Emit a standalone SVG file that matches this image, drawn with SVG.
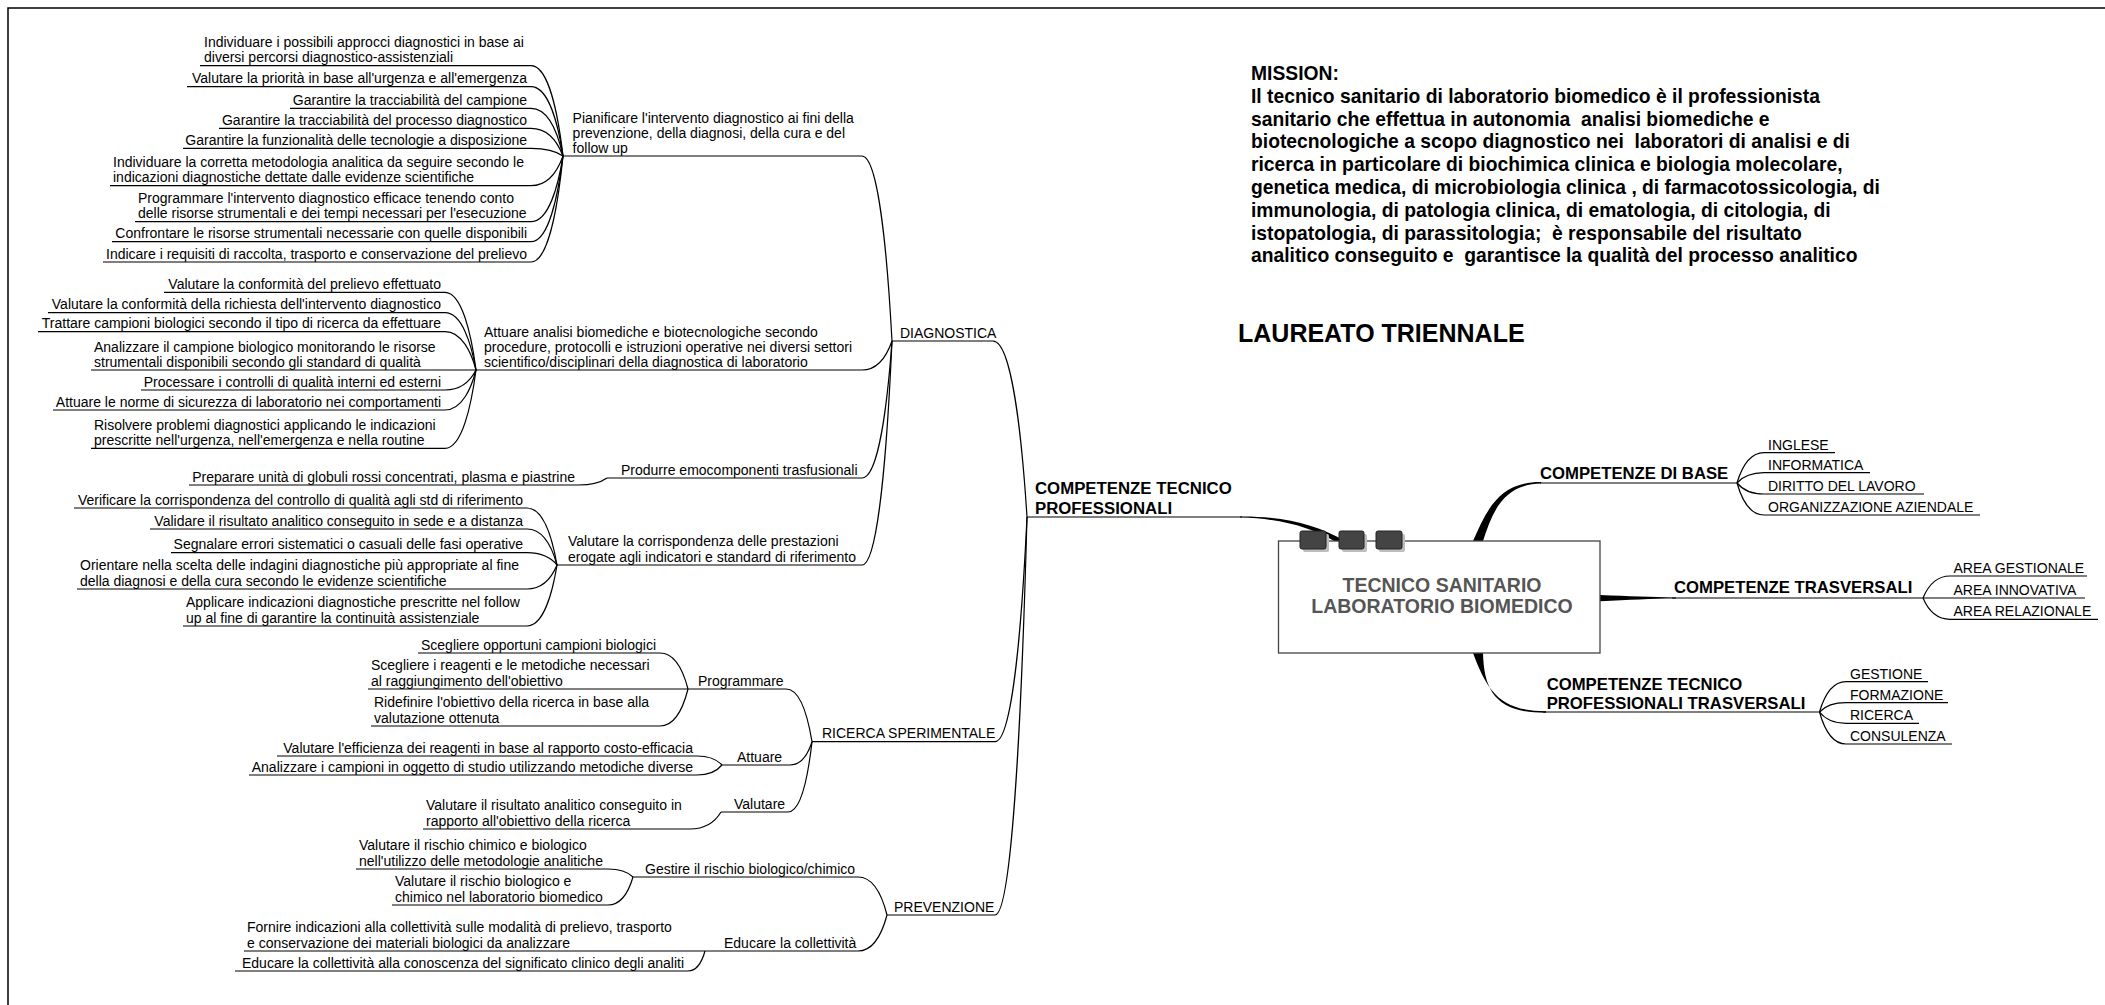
<svg xmlns="http://www.w3.org/2000/svg" width="2105" height="1005" viewBox="0 0 2105 1005">
<style>
.t{font-family:"Liberation Sans",Arial,sans-serif;font-size:14px;fill:#000}
.e{text-anchor:end}
.b{font-family:"Liberation Sans",Arial,sans-serif;font-weight:bold;fill:#000}
.br{font-size:16.7px}
.c{stroke:#000;stroke-width:1.2;fill:none}
.tp{fill:#000;stroke:none}
.sq{fill:#444;stroke:#222;stroke-width:1}
.sh{fill:#bdbdbd}
</style>
<rect width="2105" height="1005" fill="#fff"/>
<path d="M8 1005 V8 H2105" fill="none" stroke="#000" stroke-width="1.5"/>

<g id="connectors">
<path class="c" d="M200 65.7H531C548.6 65.7 558.2 115.4 563 156"/>
<path class="c" d="M187 86.7H531C548.6 86.7 558.2 124.8 563 156"/>
<path class="c" d="M290 108.3H531C548.6 108.3 558.2 134.5 563 156"/>
<path class="c" d="M219 128.3H531C548.6 128.3 558.2 143.5 563 156"/>
<path class="c" d="M183 148.3H531C548.6 148.3 558.2 152.5 563 156"/>
<path class="c" d="M110 185.7H531C548.6 185.7 558.2 169.4 563 156"/>
<path class="c" d="M135 221.7H531C548.6 221.7 558.2 185.6 563 156"/>
<path class="c" d="M112 241.7H531C548.6 241.7 558.2 194.6 563 156"/>
<path class="c" d="M103 262H531C548.6 262 558.2 203.7 563 156"/>
<path class="c" d="M563 156H862C878.5 156 887.5 257.8 892 341"/>
<path class="c" d="M164 292.3H445C462 292.3 471.4 335 476 370"/>
<path class="c" d="M48 312.7H445C462 312.7 471.4 344.2 476 370"/>
<path class="c" d="M38 331.7H445C462 331.7 471.4 352.8 476 370"/>
<path class="c" d="M91 370H476"/>
<path class="c" d="M141 390H445C462 390 471.4 379 476 370"/>
<path class="c" d="M53 410H445C462 410 471.4 388 476 370"/>
<path class="c" d="M91 448.3H445C462 448.3 471.4 405.2 476 370"/>
<path class="c" d="M476 370H862C878.5 370 887.5 354 892 341"/>
<path class="c" d="M189 485H578C594 485 602.6 481.2 607 478"/>
<path class="c" d="M607 478H862C878.5 478 887.5 402.7 892 341"/>
<path class="c" d="M74 508H527C543.5 508 552.5 539.4 557 565"/>
<path class="c" d="M150 529H527C543.5 529 552.5 548.8 557 565"/>
<path class="c" d="M171 552.7H527C543.5 552.7 552.5 559.5 557 565"/>
<path class="c" d="M77 589H527C543.5 589 552.5 575.8 557 565"/>
<path class="c" d="M183 626H527C543.5 626 552.5 592.5 557 565"/>
<path class="c" d="M557 565H862C878.5 565 887.5 441.8 892 341"/>
<path class="c" d="M892 341H993C1011.7 341 1021.9 437.8 1027 517"/>
<path class="c" d="M812 741.7H995C1012.6 741.7 1022.2 618.1 1027 517"/>
<path class="c" d="M887 915H995C1012.6 915 1022.2 696.1 1027 517"/>
<path class="c" d="M418 653H660C675.4 653 683.8 672.8 688 689"/>
<path class="c" d="M368 689H688"/>
<path class="c" d="M371 726H660C675.4 726 683.8 705.7 688 689"/>
<path class="c" d="M688 689H786C800.3 689 808.1 718 812 741.7"/>
<path class="c" d="M277 756H697C710.8 756 718.3 761 722 765"/>
<path class="c" d="M249 775H697C710.8 775 718.3 769.5 722 765"/>
<path class="c" d="M722 765H790C802.1 765 808.7 752.2 812 741.7"/>
<path class="c" d="M423 829H690C707 829 716.4 819.7 721 812"/>
<path class="c" d="M721 812H788C801.2 812 808.4 773.3 812 741.7"/>
<path class="c" d="M356 869H608C621.8 869 629.3 873.4 633 877"/>
<path class="c" d="M392 905H608C621.8 905 629.3 889.6 633 877"/>
<path class="c" d="M633 877H858C874 877 882.7 897.9 887 915"/>
<path class="c" d="M244 951H705"/>
<path class="c" d="M235 971H688C697.4 971 702.5 960 705 951"/>
<path class="c" d="M705 951H858C874 951 882.7 931.2 887 915"/>
<path class="c" d="M1027 517H1242"/>
<path class="tp" d="M1240 516.4C1282 516 1316 524 1345 541L1335 541.5C1310 527 1280 518.4 1240 517.6Z"/>
<path class="tp" d="M1473 541C1486 512 1498 481.6 1541 481.9L1541 483.6C1502 484 1492 514 1483 541Z"/>
<path class="c" d="M1540 483H1737"/>
<path class="c" d="M1835 452.7H1764C1749.2 452.7 1741.1 469.4 1737 483"/>
<path class="c" d="M1870 472.7H1764C1749.2 472.7 1741.1 478.4 1737 483"/>
<path class="c" d="M1924 494H1764C1749.2 494 1741.1 488 1737 483"/>
<path class="c" d="M1980 515H1764C1749.2 515 1741.1 497.4 1737 483"/>
<path class="tp" d="M1600 595C1630 596 1650 597.3 1676 597.4L1676 598.6C1650 598.7 1630 600 1600 601.2Z"/>
<path class="c" d="M1672 598H1923"/>
<path class="c" d="M2087 576H1950C1935.2 576 1927.1 588.1 1923 598"/>
<path class="c" d="M2085 598H1923"/>
<path class="c" d="M2098 619.3H1950C1935.2 619.3 1927.1 607.6 1923 598"/>
<path class="tp" d="M1473 653C1487 690 1499 711.2 1546 711.2L1546 712.8C1497 713 1484 692 1483 653Z"/>
<path class="c" d="M1543 712H1819.5"/>
<path class="c" d="M1928 681.7H1846C1831.4 681.7 1823.5 698.4 1819.5 712"/>
<path class="c" d="M1948 702.7H1846C1831.4 702.7 1823.5 707.8 1819.5 712"/>
<path class="c" d="M1919 723.3H1846C1831.4 723.3 1823.5 717 1819.5 712"/>
<path class="c" d="M1952 744H1846C1831.4 744 1823.5 726.4 1819.5 712"/>
</g>

<g id="mission">
<text class="b" font-size="19.3" x="1251" y="80">MISSION:</text>
<text class="b" font-size="19.3" x="1251" xml:space="preserve"><tspan x="1251" y="102.8">Il tecnico sanitario di laboratorio biomedico è il professionista</tspan><tspan x="1251" y="125.6">sanitario che effettua in autonomia  analisi biomediche e</tspan><tspan x="1251" y="148.4">biotecnologiche a scopo diagnostico nei  laboratori di analisi e di</tspan><tspan x="1251" y="171.2">ricerca in particolare di biochimica clinica e biologia molecolare,</tspan><tspan x="1251" y="194">genetica medica, di microbiologia clinica , di farmacotossicologia, di</tspan><tspan x="1251" y="216.8">immunologia, di patologia clinica, di ematologia, di citologia, di</tspan><tspan x="1251" y="239.6">istopatologia, di parassitologia;  è responsabile del risultato</tspan><tspan x="1251" y="262.4">analitico conseguito e  garantisce la qualità del processo analitico</tspan></text>
</g>
<g id="laureato"><text class="b" font-size="25" x="1238" y="342">LAUREATO TRIENNALE</text></g>

<g id="central">
<rect x="1278.5" y="541" width="321.5" height="112" fill="#fff" stroke="#444" stroke-width="1.3"/>
<rect class="sh" x="1303" y="534" width="26" height="18" rx="2"/>
<rect class="sh" x="1342" y="534" width="25" height="18" rx="2"/>
<rect class="sh" x="1379" y="534" width="26" height="18" rx="2"/>
<rect class="sq" x="1300" y="531" width="26" height="18" rx="2"/>
<rect class="sq" x="1339" y="531" width="25" height="18" rx="2"/>
<rect class="sq" x="1376" y="531" width="26" height="18" rx="2"/>
<text class="b" font-size="19.5" text-anchor="middle" style="fill:#555"><tspan x="1442" y="591.5">TECNICO SANITARIO</tspan><tspan x="1442" y="612.5">LABORATORIO BIOMEDICO</tspan></text>
</g>

<g id="competenze-tecnico-professionali"><text class="b" font-size="16.8"><tspan x="1035" y="494">COMPETENZE TECNICO</tspan><tspan x="1035" y="513.5">PROFESSIONALI</tspan></text></g>
<g id="diagnostica"><text class="t" x="900" y="337.5">DIAGNOSTICA</text></g>
<g id="ricerca-sperimentale"><text class="t" x="822" y="738.2">RICERCA SPERIMENTALE</text></g>
<g id="prevenzione"><text class="t" x="894" y="911.5">PREVENZIONE</text></g>

<g id="pianificare"><text class="t"><tspan x="572.6" y="122.5">Pianificare l'intervento diagnostico ai fini della</tspan><tspan x="572.6" y="137.5">prevenzione, della diagnosi, della cura e del</tspan><tspan x="572.6" y="152.5">follow up</tspan></text></g>
<g id="p1"><text class="t"><tspan x="204" y="47.2">Individuare i possibili approcci diagnostici in base ai</tspan><tspan x="204" y="62.2">diversi percorsi diagnostico-assistenziali</tspan></text></g>
<g id="p2"><text class="t e" x="527" y="83.2">Valutare la priorità in base all'urgenza e all'emergenza</text></g>
<g id="p3"><text class="t e" x="527" y="104.8">Garantire la tracciabilità del campione</text></g>
<g id="p4"><text class="t e" x="527" y="124.8">Garantire la tracciabilità del processo diagnostico</text></g>
<g id="p5"><text class="t e" x="527" y="144.8">Garantire la funzionalità delle tecnologie a disposizione</text></g>
<g id="p6"><text class="t"><tspan x="113" y="167.2">Individuare la corretta metodologia analitica da seguire secondo le</tspan><tspan x="113" y="182.2">indicazioni diagnostiche dettate dalle evidenze scientifiche</tspan></text></g>
<g id="p7"><text class="t"><tspan x="138" y="203.2">Programmare l'intervento diagnostico efficace tenendo conto</tspan><tspan x="138" y="218.2">delle risorse strumentali e dei tempi necessari per l'esecuzione</tspan></text></g>
<g id="p8"><text class="t e" x="527" y="238.2">Confrontare le risorse strumentali necessarie con quelle disponibili</text></g>
<g id="p9"><text class="t e" x="527" y="258.5">Indicare i requisiti di raccolta, trasporto e conservazione del prelievo</text></g>

<g id="attuare-analisi"><text class="t"><tspan x="484" y="336.5">Attuare analisi biomediche e biotecnologiche secondo</tspan><tspan x="484" y="351.5">procedure, protocolli e istruzioni operative nei diversi settori</tspan><tspan x="484" y="366.5">scientifico/disciplinari della diagnostica di laboratorio</tspan></text></g>
<g id="a1"><text class="t e" x="441" y="288.8">Valutare la conformità del prelievo effettuato</text></g>
<g id="a2"><text class="t e" x="441" y="309.2">Valutare la conformità della richiesta dell'intervento diagnostico</text></g>
<g id="a3"><text class="t e" x="441" y="328.2">Trattare campioni biologici secondo il tipo di ricerca da effettuare</text></g>
<g id="a4"><text class="t"><tspan x="94" y="351.5">Analizzare il campione biologico monitorando le risorse</tspan><tspan x="94" y="366.5">strumentali disponibili secondo gli standard di qualità</tspan></text></g>
<g id="a5"><text class="t e" x="441" y="386.5">Processare i controlli di qualità interni ed esterni</text></g>
<g id="a6"><text class="t e" x="441" y="406.5">Attuare le norme di sicurezza di laboratorio nei comportamenti</text></g>
<g id="a7"><text class="t"><tspan x="94" y="429.8">Risolvere problemi diagnostici applicando le indicazioni</tspan><tspan x="94" y="444.8">prescritte nell'urgenza, nell'emergenza e nella routine</tspan></text></g>

<g id="produrre"><text class="t" x="621" y="474.5">Produrre emocomponenti trasfusionali</text></g>
<g id="pr1"><text class="t e" x="575" y="481.5">Preparare unità di globuli rossi concentrati, plasma e piastrine</text></g>

<g id="valutare-corrispondenza"><text class="t"><tspan x="568" y="546">Valutare la corrispondenza delle prestazioni</tspan><tspan x="568" y="561.5">erogate agli indicatori e standard di riferimento</tspan></text></g>
<g id="v1"><text class="t e" x="523" y="504.5">Verificare la corrispondenza del controllo di qualità agli std di riferimento</text></g>
<g id="v2"><text class="t e" x="523" y="525.5">Validare il risultato analitico conseguito in sede e a distanza</text></g>
<g id="v3"><text class="t e" x="523" y="549.2">Segnalare errori sistematici o casuali delle fasi operative</text></g>
<g id="v4"><text class="t"><tspan x="80" y="570">Orientare nella scelta delle indagini diagnostiche più appropriate al fine</tspan><tspan x="80" y="585.5">della diagnosi e della cura secondo le evidenze scientifiche</tspan></text></g>
<g id="v5"><text class="t"><tspan x="186" y="607">Applicare indicazioni diagnostiche prescritte nel follow</tspan><tspan x="186" y="622.5">up al fine di garantire la continuità assistenziale</tspan></text></g>

<g id="programmare"><text class="t" x="698" y="685.5">Programmare</text></g>
<g id="r1"><text class="t e" x="656" y="649.5">Scegliere opportuni campioni biologici</text></g>
<g id="r2"><text class="t"><tspan x="371" y="670">Scegliere i reagenti e le metodiche necessari</tspan><tspan x="371" y="685.5">al raggiungimento dell'obiettivo</tspan></text></g>
<g id="r3"><text class="t"><tspan x="374" y="707">Ridefinire l'obiettivo della ricerca in base alla</tspan><tspan x="374" y="722.5">valutazione ottenuta</tspan></text></g>
<g id="attuare"><text class="t" x="737" y="761.5">Attuare</text></g>
<g id="r4"><text class="t e" x="693" y="752.5">Valutare l'efficienza dei reagenti in base al rapporto costo-efficacia</text></g>
<g id="r5"><text class="t e" x="693" y="771.5">Analizzare i campioni in oggetto di studio utilizzando metodiche diverse</text></g>
<g id="valutare"><text class="t" x="734" y="808.5">Valutare</text></g>
<g id="r6"><text class="t"><tspan x="426" y="810">Valutare il risultato analitico conseguito in</tspan><tspan x="426" y="825.5">rapporto all'obiettivo della ricerca</tspan></text></g>

<g id="gestire"><text class="t" x="645" y="873.5">Gestire il rischio biologico/chimico</text></g>
<g id="g1"><text class="t"><tspan x="359" y="850">Valutare il rischio chimico e biologico</tspan><tspan x="359" y="865.5">nell'utilizzo delle metodologie analitiche</tspan></text></g>
<g id="g2"><text class="t"><tspan x="395" y="886">Valutare il rischio biologico e</tspan><tspan x="395" y="901.5">chimico nel laboratorio biomedico</tspan></text></g>
<g id="educare"><text class="t" x="724" y="947.5">Educare la collettività</text></g>
<g id="e1"><text class="t"><tspan x="247" y="932">Fornire indicazioni alla collettività sulle modalità di prelievo, trasporto</tspan><tspan x="247" y="947.5">e conservazione dei materiali biologici da analizzare</tspan></text></g>
<g id="e2"><text class="t e" x="684" y="967.5">Educare la collettività alla conoscenza del significato clinico degli analiti</text></g>

<g id="competenze-di-base"><text class="b br" x="1540" y="479">COMPETENZE DI BASE</text></g>
<g id="inglese"><text class="t" x="1768" y="449.7">INGLESE</text></g>
<g id="informatica"><text class="t" x="1768" y="469.7">INFORMATICA</text></g>
<g id="diritto"><text class="t" x="1768" y="491">DIRITTO DEL LAVORO</text></g>
<g id="organizzazione"><text class="t" x="1768" y="512">ORGANIZZAZIONE AZIENDALE</text></g>

<g id="competenze-trasversali"><text class="b br" x="1674" y="593">COMPETENZE TRASVERSALI</text></g>
<g id="area-gestionale"><text class="t" x="1953.5" y="573">AREA GESTIONALE</text></g>
<g id="area-innovativa"><text class="t" x="1953.5" y="595.3">AREA INNOVATIVA</text></g>
<g id="area-relazionale"><text class="t" x="1953.5" y="616.3">AREA RELAZIONALE</text></g>

<g id="competenze-tecnico-prof-trasversali"><text class="b br"><tspan x="1546.7" y="689.5">COMPETENZE TECNICO</tspan><tspan x="1546.7" y="708.5">PROFESSIONALI TRASVERSALI</tspan></text></g>
<g id="gestione"><text class="t" x="1850" y="678.7">GESTIONE</text></g>
<g id="formazione"><text class="t" x="1850" y="699.7">FORMAZIONE</text></g>
<g id="ricerca"><text class="t" x="1850" y="720.3">RICERCA</text></g>
<g id="consulenza"><text class="t" x="1850" y="741">CONSULENZA</text></g>
</svg>
